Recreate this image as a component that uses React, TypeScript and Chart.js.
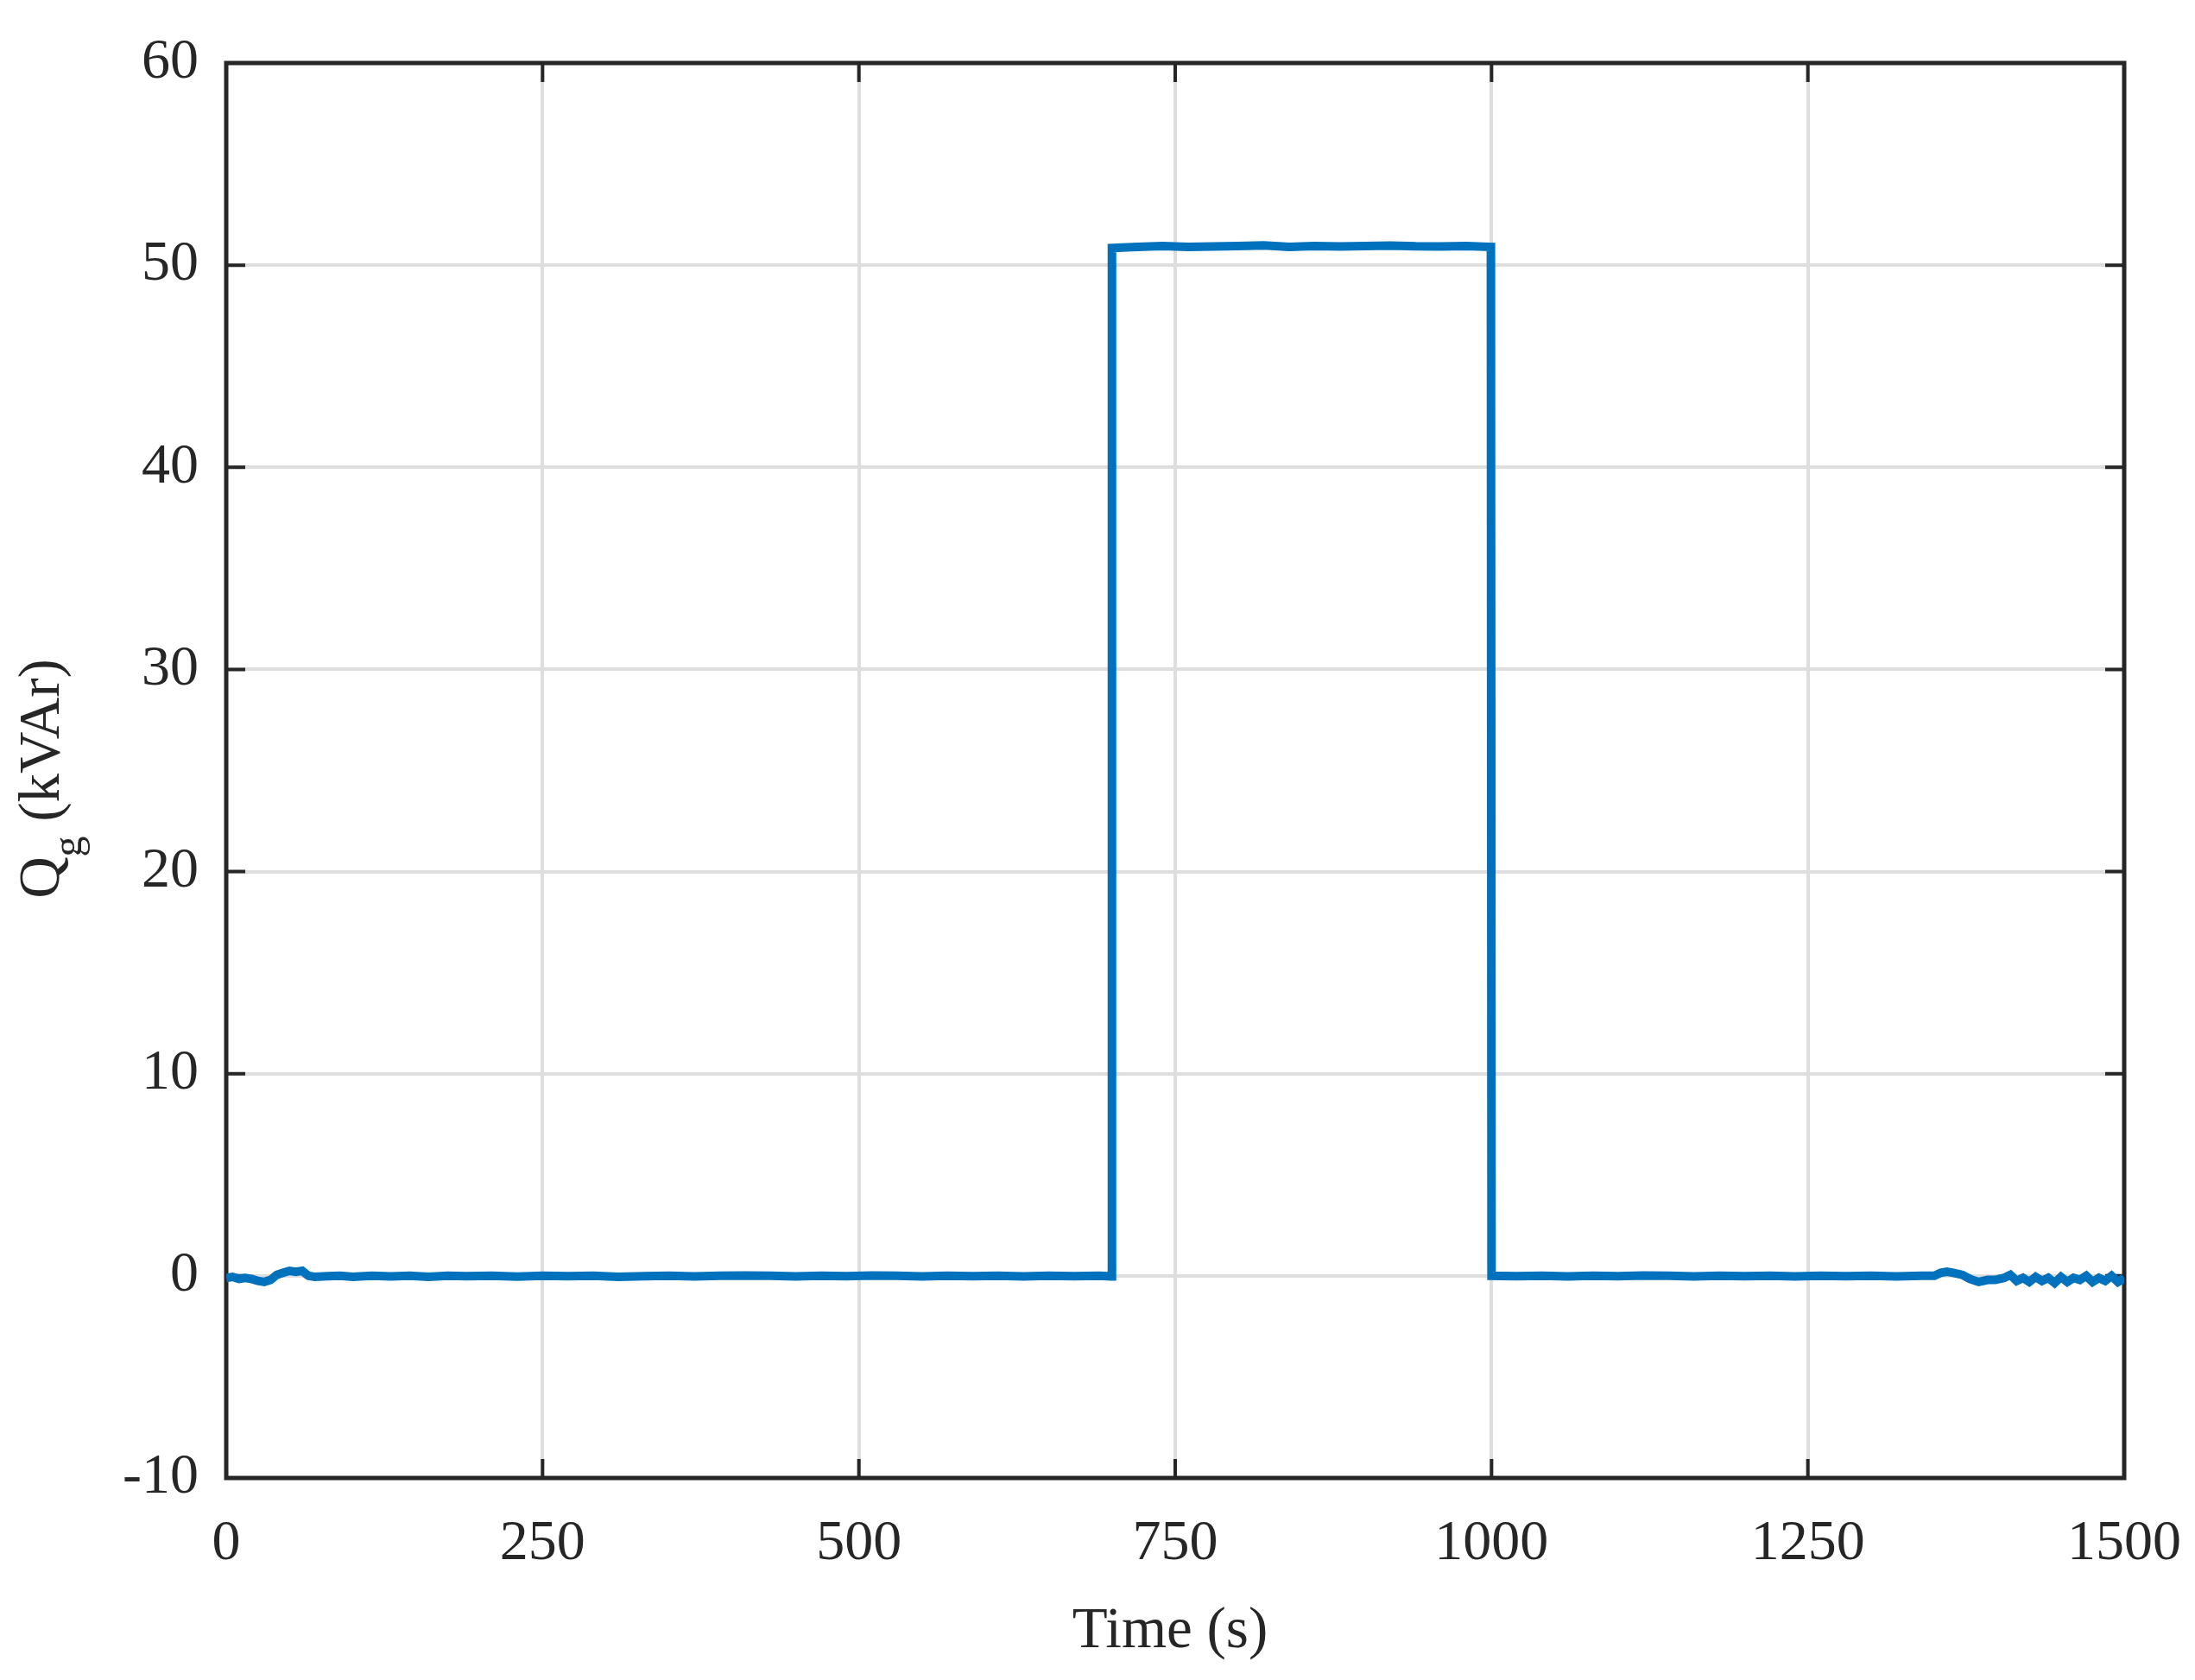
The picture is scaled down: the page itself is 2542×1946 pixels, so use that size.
import React, { useEffect, useRef } from "react";
import { Chart, registerables } from "chart.js";

Chart.register(...registerables);

// ---- data ----
const timeSec: number[] = [
  0, 5, 10, 15, 20, 25, 30, 35, 40, 45, 50, 55, 60, 65, 70, 80, 90, 100, 115, 130,
  145, 160, 175, 190, 210, 230, 250, 270, 290, 310, 330, 350, 370, 390, 410, 430,
  450, 470, 490, 510, 530, 550, 570, 590, 610, 630, 650, 670, 690, 699.5,
  700, 720, 740, 760, 780, 800, 820, 840, 860, 880, 900, 920, 940, 960, 980, 999.5,
  1000, 1020, 1040, 1060, 1080, 1100, 1120, 1140, 1160, 1180, 1200, 1220, 1240,
  1260, 1280, 1300, 1320, 1340, 1350, 1355, 1360, 1365, 1372, 1378, 1385, 1392,
  1398, 1405, 1410, 1415, 1420, 1425, 1430, 1435, 1440, 1445, 1450, 1455, 1460,
  1465, 1470, 1475, 1480, 1485, 1490, 1495, 1500,
];

const qgKVAr: number[] = [
  -0.1, -0.05, -0.15, -0.1, -0.15, -0.25, -0.3, -0.2, 0.05, 0.15, 0.25, 0.2, 0.25, 0.0, -0.05, -0.02, 0.0, -0.05, 0.0, -0.03,
  0.0, -0.05, 0.0, -0.02, 0.0, -0.04, 0.0, -0.02, 0.0, -0.05, -0.02, 0.0, -0.03, 0.0, 0.02, 0.0,
  -0.03, 0.0, -0.02, 0.02, 0.0, -0.03, 0.0, -0.02, 0.0, -0.03, 0.0, -0.02, 0.0, -0.03,
  50.85, 50.9, 50.95, 50.9, 50.92, 50.95, 50.98, 50.9, 50.95, 50.92, 50.95, 50.97, 50.93, 50.92, 50.95, 50.9,
  0.0, -0.02, 0.0, -0.03, 0.0, -0.02, 0.02, 0.0, -0.03, 0.0, -0.02, 0.0, -0.03,
  0.0, -0.02, 0.0, -0.03, 0.0, 0.0, 0.15, 0.2, 0.15, 0.05, -0.15, -0.3, -0.2,
  -0.2, -0.1, 0.05, -0.25, -0.1, -0.3, -0.05, -0.25, -0.1, -0.35, -0.05, -0.3, -0.1,
  -0.2, 0.0, -0.3, -0.1, -0.25, 0.0, -0.3, -0.1,
];

const xTickValues: number[] = [0, 250, 500, 750, 1000, 1250, 1500];
const yTickValues: number[] = [-10, 0, 10, 20, 30, 40, 50, 60];

const xTitle = "Time (s)";
const yTitleMain = "Q";
const yTitleSub = "g";
const yTitleRest = " (kVAr)";

const FONT = "'Liberation Serif', 'Times New Roman', serif";
const INK = "#262626";

const framePlugin = {
  id: "matlabFrame",
  beforeDatasetsDraw(chart: any) {
    const { ctx, chartArea } = chart;
    const { left, right, top, bottom } = chartArea;
    const xs = chart.scales.x;
    const ys = chart.scales.y;
    const tl = 22;
    ctx.save();
    ctx.strokeStyle = INK;
    ctx.lineWidth = 4;
    ctx.beginPath();
    xTickValues.forEach((v) => {
      const px = xs.getPixelForValue(v);
      ctx.moveTo(px, bottom);
      ctx.lineTo(px, bottom - tl);
      ctx.moveTo(px, top);
      ctx.lineTo(px, top + tl);
    });
    yTickValues.forEach((v) => {
      const py = ys.getPixelForValue(v);
      ctx.moveTo(left, py);
      ctx.lineTo(left + tl, py);
      ctx.moveTo(right, py);
      ctx.lineTo(right - tl, py);
    });
    ctx.stroke();
    ctx.lineWidth = 5;
    ctx.strokeRect(left, top, right - left, bottom - top);
    ctx.restore();
  },
  afterDraw(chart: any) {
    const { ctx, chartArea } = chart;
    ctx.save();
    ctx.fillStyle = INK;
    // x title
    ctx.font = `67px ${FONT}`;
    ctx.textAlign = "center";
    ctx.textBaseline = "alphabetic";
    ctx.fillText(xTitle, (chartArea.left + chartArea.right) / 2 - 6, 1908);
    // y title with subscript
    const mainFont = `67px ${FONT}`;
    const subFont = `48px ${FONT}`;
    ctx.font = mainFont;
    const wQ = ctx.measureText(yTitleMain).width;
    const wRest = ctx.measureText(yTitleRest).width;
    ctx.font = subFont;
    const wSub = ctx.measureText(yTitleSub).width;
    const total = wQ + wSub + wRest;
    const cy = 902;
    ctx.translate(68, cy);
    ctx.rotate(-Math.PI / 2);
    ctx.textAlign = "left";
    let x0 = -total / 2;
    ctx.font = mainFont;
    ctx.fillText(yTitleMain, x0, 0);
    x0 += wQ;
    ctx.font = subFont;
    ctx.fillText(yTitleSub, x0, 26);
    x0 += wSub;
    ctx.font = mainFont;
    ctx.fillText(yTitleRest, x0, 0);
    ctx.restore();
  },
};

export default function App() {
  const ref = useRef<HTMLCanvasElement | null>(null);
  useEffect(() => {
    if (!ref.current) return;
    const points = timeSec.map((t, i) => ({ x: t, y: qgKVAr[i] }));
    const chart = new Chart(ref.current, {
      type: "scatter",
      data: {
        datasets: [
          {
            data: points,
            showLine: true,
            borderColor: "#0072BD",
            backgroundColor: "#0072BD",
            borderWidth: 10,
            pointRadius: 0,
            borderJoinStyle: "miter",
            tension: 0,
          } as any,
        ],
      },
      options: {
        responsive: false,
        animation: false,
        devicePixelRatio: 1,
        layout: { padding: { top: 73, right: 82, left: 0, bottom: 0 } },
        plugins: { legend: { display: false }, tooltip: { enabled: false } },
        scales: {
          x: {
            type: "linear",
            min: 0,
            max: 1500,
            afterBuildTicks: (s: any) => {
              s.ticks = xTickValues.map((v) => ({ value: v }));
            },
            afterFit: (s: any) => {
              s.height = 234;
              s.paddingLeft = 0;
              s.paddingRight = 0;
            },
            grid: { color: "#dedede", lineWidth: 4, drawTicks: false },
            border: { display: false },
            ticks: {
              padding: 37,
              color: INK,
              font: { family: FONT, size: 66 },
              maxRotation: 0,
              autoSkip: false,
              callback: (v: any) => String(v),
            },
          },
          y: {
            type: "linear",
            min: -10,
            max: 60,
            afterBuildTicks: (s: any) => {
              s.ticks = yTickValues.map((v) => ({ value: v }));
            },
            afterFit: (s: any) => {
              s.width = 262;
              s.paddingTop = 0;
              s.paddingBottom = 0;
            },
            grid: { color: "#dedede", lineWidth: 4, drawTicks: false },
            border: { display: false },
            ticks: {
              padding: 32,
              color: INK,
              font: { family: FONT, size: 66 },
              autoSkip: false,
              callback: (v: any) => String(v),
            },
          },
        },
      },
      plugins: [framePlugin],
    });
    return () => chart.destroy();
  }, []);
  return (
    <div style={{ position: "absolute", left: 0, top: 0, width: 2542, height: 1946, background: "#fff" }}>
      <canvas ref={ref} width={2542} height={1946} style={{ display: "block" }} />
    </div>
  );
}
